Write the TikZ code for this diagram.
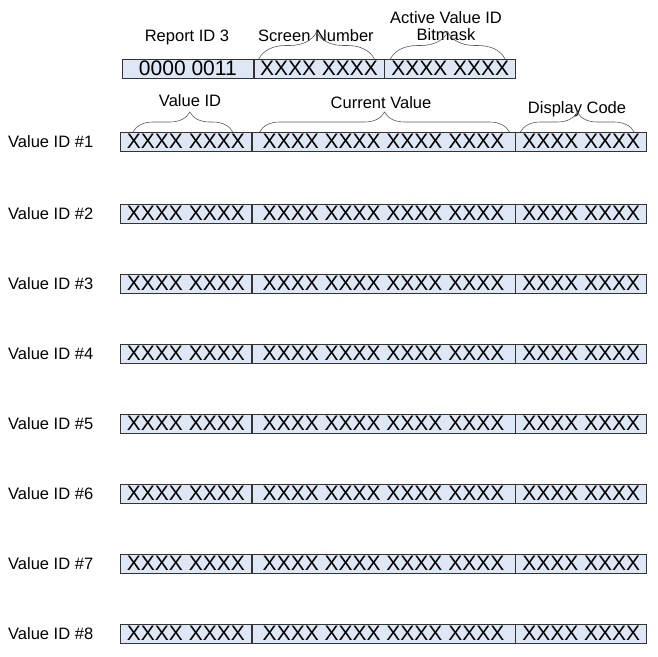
\documentclass[tikz,border=0pt]{standalone}
\usepackage{fontspec}
\setmainfont{Liberation Sans}
\usetikzlibrary{decorations.pathreplacing,positioning}
\definecolor{cellfill}{RGB}{221,231,245}

\begin{document}
\begin{tikzpicture}[x=1pt,y=-1pt,
  cl/.style={draw=black!80,fill=cellfill,line width=0.7pt,minimum height=18.5pt,inner sep=0pt,anchor=north west,font=\fontsize{21}{21}\selectfont},
  lb/.style={font=\fontsize{16.5}{17}\selectfont,anchor=base,inner sep=0pt},
  br/.style={draw=black!65,line width=0.6pt,decorate,decoration={brace,amplitude=#1}}]
  \useasboundingbox (0,0) rectangle (657,657);
  % report header
  \node[cl,minimum width=131pt] (rid) at (122,59) {0000 0011};
  \node[cl,minimum width=130pt] (scr) at (rid.north east) {XXXX XXXX};
  \node[cl,minimum width=131pt] (bmk) at (scr.north east) {XXXX XXXX};
  \node[lb] (lrid) at (187,41) {Report ID 3};
  \node[lb] (lscr) at (316,41) {Screen Number};
  \node[lb,anchor=south,align=center] (lbmk) at (446,41) {Active Value ID\\Bitmask};
  \draw[br=27pt] ([xshift=5pt]scr.north west) -- ([xshift=-10pt]scr.north east);
  \draw[br=27pt] ([xshift=6pt]bmk.north west) -- ([xshift=-11pt]bmk.north east);
  % value rows
  \foreach \i/\yy in {1/132,2/204,3/274,4/344,5/414,6/484,7/554,8/624}{
    \node[cl,minimum width=131pt] (vid\i) at (120,\yy) {XXXX XXXX};
    \node[cl,minimum width=263pt] (cur\i) at (vid\i.north east) {XXXX XXXX XXXX XXXX};
    \node[cl,minimum width=131pt] (dsp\i) at (cur\i.north east) {XXXX XXXX};
    \node[font=\fontsize{16.5}{17}\selectfont,anchor=west,inner sep=0pt] (lv\i) at (8,\yy+9.5) {Value ID \#\i};
  }
  % field names
  \node[lb] (lvid) at (190,106) {Value ID};
  \node[lb] (lcur) at (381,108) {Current Value};
  \node[lb] (ldsp) at (577,113) {Display Code};
  \draw[br=20pt,decoration={aspect=0.57}] ([xshift=13pt]vid1.north west) -- ([xshift=-19pt]vid1.north east);
  \draw[br=20pt] ([xshift=8pt]cur1.north west) -- ([xshift=-6pt]cur1.north east);
  \draw[br=20pt] ([xshift=5pt]dsp1.north west) -- ([xshift=-13pt]dsp1.north east);
\end{tikzpicture}
\end{document}
